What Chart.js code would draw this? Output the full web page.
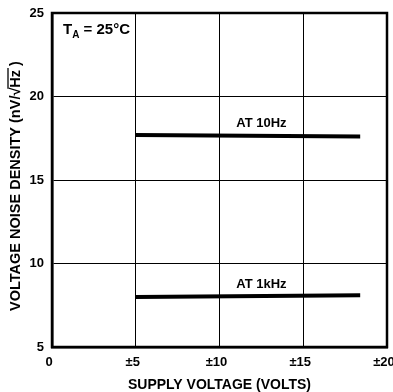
<!DOCTYPE html>
<html>
<head>
<meta charset="utf-8">
<script src="https://cdn.jsdelivr.net/npm/chart.js@4/dist/chart.umd.min.js"></script>
<style>
  html, body { margin: 0; padding: 0; background: #fff; }
  canvas { display: block; }
</style>
</head>
<body>
<canvas id="noiseChart" width="393" height="392"></canvas>
<script>
// Supply voltage (± volts) and noise density (nV/√Hz) at the two spot frequencies
const supplyVolts = [5, 18.4];
const noise10Hz = [17.7, 17.6];
const noise1kHz = [8.0, 8.1];

const xTickValues = [0, 5, 10, 15, 20];
const xTickLabels = ["0", "±5", "±10", "±15", "±20"];
const yTickValues = [5, 10, 15, 20, 25];

const FONT = "'Liberation Sans', Arial, sans-serif";

const toPoints = (xs, ys) => xs.map((x, i) => ({ x: x, y: ys[i] }));

// Frame, axis titles and in-plot labels
const decorations = {
  id: "decorations",
  afterDraw(chart) {
    const { ctx, chartArea: a, scales } = chart;
    ctx.save();

    // heavy outer frame
    ctx.strokeStyle = "#000";
    ctx.lineWidth = 2.5;
    ctx.strokeRect(a.left, a.top, a.right - a.left, a.bottom - a.top);

    ctx.fillStyle = "#000";
    ctx.textBaseline = "middle";
    ctx.textAlign = "center";

    // series labels
    const xs = scales.x, ys = scales.y;
    ctx.font = "bold 13px " + FONT;
    ctx.fillText("AT 10Hz", xs.getPixelForValue(12.5), ys.getPixelForValue(noise10Hz[0]) - 11);
    ctx.fillText("AT 1kHz", xs.getPixelForValue(12.5), ys.getPixelForValue(noise1kHz[0]) - 12);

    // x axis title
    ctx.font = "bold 14px " + FONT;
    ctx.fillText("SUPPLY VOLTAGE (VOLTS)", (a.left + a.right) / 2, 385);

    // T_A = 25°C
    ctx.textAlign = "left";
    let x = 63;
    ctx.font = "bold 15px " + FONT;
    ctx.fillText("T", x, 30);
    x += ctx.measureText("T").width;
    ctx.font = "bold 10px " + FONT;
    ctx.fillText("A", x, 35);
    x += ctx.measureText("A").width;
    ctx.font = "bold 15px " + FONT;
    ctx.fillText(" = 25°C", x, 30);

    // y axis title, rotated, with radical bar over Hz
    ctx.font = "bold 14.5px " + FONT;
    const head = "VOLTAGE NOISE DENSITY (nV/√";
    const unit = "Hz";
    const tail = " )";
    const wHead = ctx.measureText(head).width;
    const wUnit = ctx.measureText(unit).width;
    const wTail = ctx.measureText(tail).width;
    const total = wHead + wUnit + wTail;
    ctx.translate(16, 186);
    ctx.rotate(-Math.PI / 2);
    const s = -total / 2;
    ctx.fillText(head + unit + tail, s, 0);
    ctx.lineWidth = 1.3;
    ctx.beginPath();
    ctx.moveTo(s + wHead - 1, -8);
    ctx.lineTo(s + wHead + wUnit + 2, -8);
    ctx.stroke();

    ctx.restore();
  }
};

new Chart(document.getElementById("noiseChart"), {
  type: "scatter",
  data: {
    datasets: [
      {
        label: "AT 10Hz",
        data: toPoints(supplyVolts, noise10Hz),
        showLine: true,
        borderColor: "#000",
        borderWidth: 4,
        pointRadius: 0,
        borderCapStyle: "butt"
      },
      {
        label: "AT 1kHz",
        data: toPoints(supplyVolts, noise1kHz),
        showLine: true,
        borderColor: "#000",
        borderWidth: 4,
        pointRadius: 0,
        borderCapStyle: "butt"
      }
    ]
  },
  options: {
    responsive: false,
    animation: false,
    devicePixelRatio: 1,
    layout: { padding: { top: 13, right: 6, left: 0, bottom: 0 } },
    plugins: {
      legend: { display: false },
      tooltip: { enabled: false }
    },
    scales: {
      x: {
        type: "linear",
        min: 0,
        max: 20,
        afterBuildTicks: (scale) => { scale.ticks = xTickValues.map(v => ({ value: v })); },
        afterFit: (scale) => {
          scale.height = 45;
          scale.paddingLeft = 0;
          scale.paddingRight = 0;
        },
        ticks: {
          color: "#000",
          padding: 8,
          labelOffset: -3,
          maxRotation: 0,
          autoSkip: false,
          font: { family: FONT, size: 13, weight: "bold" },
          callback: (v) => xTickLabels[xTickValues.indexOf(v)]
        },
        grid: { color: "#000", lineWidth: 1, drawTicks: false },
        border: { color: "#000", width: 2.5 }
      },
      y: {
        type: "linear",
        min: 5,
        max: 25,
        afterBuildTicks: (scale) => { scale.ticks = yTickValues.map(v => ({ value: v })); },
        afterFit: (scale) => {
          scale.width = 52;
          scale.paddingTop = 0;
          scale.paddingBottom = 0;
        },
        ticks: {
          color: "#000",
          padding: 8,
          autoSkip: false,
          font: { family: FONT, size: 13, weight: "bold" }
        },
        grid: { color: "#000", lineWidth: 1, drawTicks: false },
        border: { color: "#000", width: 2.5 }
      }
    }
  },
  plugins: [decorations]
});
</script>
</body>
</html>
